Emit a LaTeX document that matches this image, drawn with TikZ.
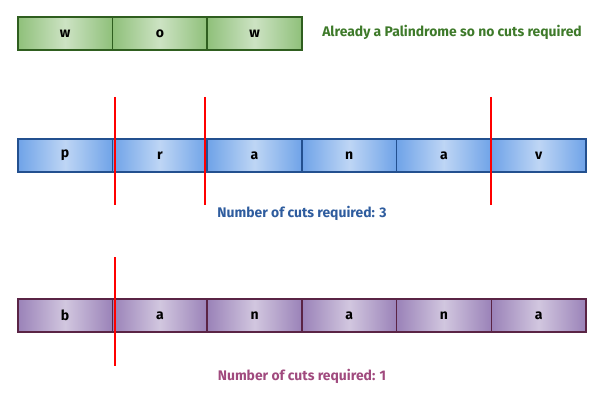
\documentclass[tikz,border=0pt]{standalone}
\usepackage{fontspec}
\setmainfont{Fira Sans}
\definecolor{gfill}{HTML}{8FC07A}\definecolor{gline}{HTML}{2F5E1F}
\definecolor{bfill}{HTML}{6FA3E8}\definecolor{bline}{HTML}{23508F}
\definecolor{pfill}{HTML}{9A82B8}\definecolor{pline}{HTML}{5A2445}
\definecolor{gtxt}{HTML}{3E7A2A}\definecolor{btxt}{HTML}{2E5C9E}\definecolor{ptxt}{HTML}{A04A7E}
\begin{document}
\begin{tikzpicture}[x=1pt,y=-1pt,
  cell/.style={draw=#1line,line width=1.6pt,left color=#1fill,right color=#1fill,middle color=white!55!#1fill,minimum width=94.7pt,minimum height=33pt,inner sep=0pt,anchor=north west,font=\fontsize{14}{16}\selectfont\bfseries},
  cut/.style={draw=red,line width=2.4pt},
  lbl/.style={font=\fontsize{13.9}{16}\selectfont\bfseries}]
\useasboundingbox (0,0) rectangle (601,403);
\foreach \c [count=\i from 0] in {w,o,w}
  \node[cell=g] (g\i) at (17+\i*94.7,16) {\c};
\foreach \c [count=\i from 0] in {p,r,a,n,a,v}
  \node[cell=b] (b\i) at (17+\i*94.7,138) {\c};
\foreach \c [count=\i from 0] in {b,a,n,a,n,a}
  \node[cell=p] (p\i) at (17+\i*94.7,298) {\c};
\node[lbl,text=gtxt] (tg) at (452,32) {Already a Palindrome so no cuts required};
\node[lbl,text=btxt] (tb) at (302,213) {Number of cuts required: 3};
\node[lbl,text=ptxt] (tp) at (302,376) {Number of cuts required: 1};
\coordinate (c1a) at (115,97); \coordinate (c1b) at (115,205);
\coordinate (c2a) at (205,97); \coordinate (c2b) at (205,205);
\coordinate (c3a) at (491,97); \coordinate (c3b) at (491,205);
\coordinate (c4a) at (115,257); \coordinate (c4b) at (115,366);
\draw[cut] (c1a)--(c1b); \draw[cut] (c2a)--(c2b); \draw[cut] (c3a)--(c3b); \draw[cut] (c4a)--(c4b);
\end{tikzpicture}
\end{document}
